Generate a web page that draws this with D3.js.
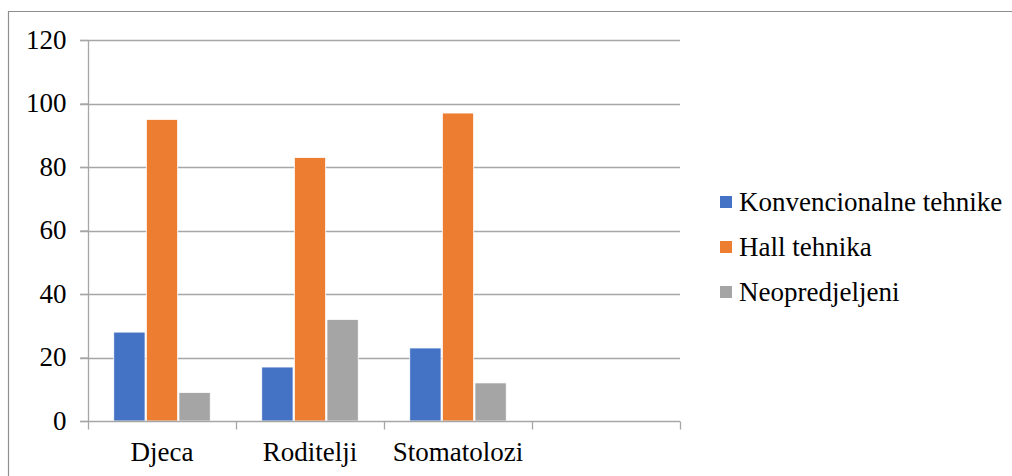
<!DOCTYPE html>
<html>
<head>
<meta charset="utf-8">
<script src="https://cdn.jsdelivr.net/npm/d3@7"></script>
<style>
  body { margin: 0; background: #fff; }
  svg { display: block; }
  .lbl { font-family: "Liberation Serif", "Times New Roman", Tinos; font-size: 27px; fill: #000; }
</style>
</head>
<body>
<svg width="1012" height="476"></svg>
<script>
// data
var categories = ['Djeca', 'Roditelji', 'Stomatolozi', ''];
var series = ['Konvencionalne tehnike', 'Hall tehnika', 'Neopredjeljeni'];
var konvencionalne = [28, 17, 23];
var hall = [95, 83, 97];
var neopredjeljeni = [9, 32, 12];
var yTicks = [0, 20, 40, 60, 80, 100, 120];
var colors = ['#4472C4', '#ED7D31', '#A5A5A5'];

var values = [konvencionalne, hall, neopredjeljeni];
var svg = d3.select('svg');

// outer frame (only top and left visible)
svg.append('path').attr('d', 'M8.5,476 L8.5,11.5 L1012,11.5')
  .attr('fill', 'none').attr('stroke', '#8e8e8e').attr('stroke-width', 1.2);

var x = d3.scaleBand().domain(categories).range([88, 680]).paddingInner(0).paddingOuter(0);
var xs = d3.scaleBand().domain(series).range([0, x.bandwidth()]).paddingInner(0.04).paddingOuter(0.79);
var y = d3.scaleLinear().domain([0, 120]).range([421, 40]);

// gridlines
svg.append('g').selectAll('line').data(yTicks.slice(1)).enter().append('line')
  .attr('x1', 80).attr('x2', 680)
  .attr('y1', function (d) { return Math.round(y(d)) + 0.5; })
  .attr('y2', function (d) { return Math.round(y(d)) + 0.5; })
  .attr('stroke', '#a6a6a6').attr('stroke-width', 1.3);

// bars
var rows = [];
categories.forEach(function (c, i) {
  series.forEach(function (s, j) {
    if (values[j][i] !== undefined) rows.push({ cat: c, ser: s, v: values[j][i], col: colors[j] });
  });
});
svg.append('g').selectAll('rect').data(rows).enter().append('rect')
  .attr('x', function (d) { return x(d.cat) + xs(d.ser); })
  .attr('y', function (d) { return y(d.v); })
  .attr('width', xs.bandwidth())
  .attr('height', function (d) { return y(0) - y(d.v); })
  .attr('fill', function (d) { return d.col; })
  .attr('stroke', '#fff').attr('stroke-width', 0.8);

// y axis (no default font attrs on the group)
var yAxis = svg.append('g').attr('transform', 'translate(88.5,0)')
  .call(d3.axisLeft(y).tickValues(yTicks).tickSize(8).tickPadding(14).tickFormat(d3.format('d')));
yAxis.attr('font-family', null).attr('font-size', null);
yAxis.selectAll('line').attr('stroke', '#a6a6a6').attr('stroke-width', 1.3);
yAxis.select('.domain').attr('stroke', '#a6a6a6').attr('stroke-width', 1.3).attr('d', 'M0,40V421');
yAxis.selectAll('text').attr('class', 'lbl').attr('fill', null).attr('dy', '0.3em');

// x axis
var xTickPos = categories.map(function (c) { return x(c); }).concat([680]);
var xAxis = svg.append('g').attr('transform', 'translate(0,421.5)');
xAxis.append('line').attr('x1', 80).attr('x2', 680).attr('stroke', '#a6a6a6').attr('stroke-width', 1.3);
xAxis.selectAll('line.tick').data(xTickPos).enter().append('line').attr('class', 'tick')
  .attr('x1', function (d) { return Math.round(d) + 0.5; })
  .attr('x2', function (d) { return Math.round(d) + 0.5; })
  .attr('y1', 0).attr('y2', 8).attr('stroke', '#a6a6a6').attr('stroke-width', 1.3);
xAxis.selectAll('text').data(categories).enter().append('text')
  .attr('class', 'lbl')
  .attr('x', function (d) { return x(d) + x.bandwidth() / 2; })
  .attr('y', 39).attr('text-anchor', 'middle')
  .text(function (d) { return d; });

// legend
var legend = svg.append('g').selectAll('g').data(series).enter().append('g')
  .attr('transform', function (d, i) { return 'translate(720,' + (202 + i * 45) + ')'; });
legend.append('rect').attr('x', 0).attr('y', -6).attr('width', 12).attr('height', 12)
  .attr('fill', function (d, i) { return colors[i]; });
legend.append('text').attr('class', 'lbl').attr('x', 19).attr('y', 9)
  .text(function (d) { return d; });
</script>
</body>
</html>
